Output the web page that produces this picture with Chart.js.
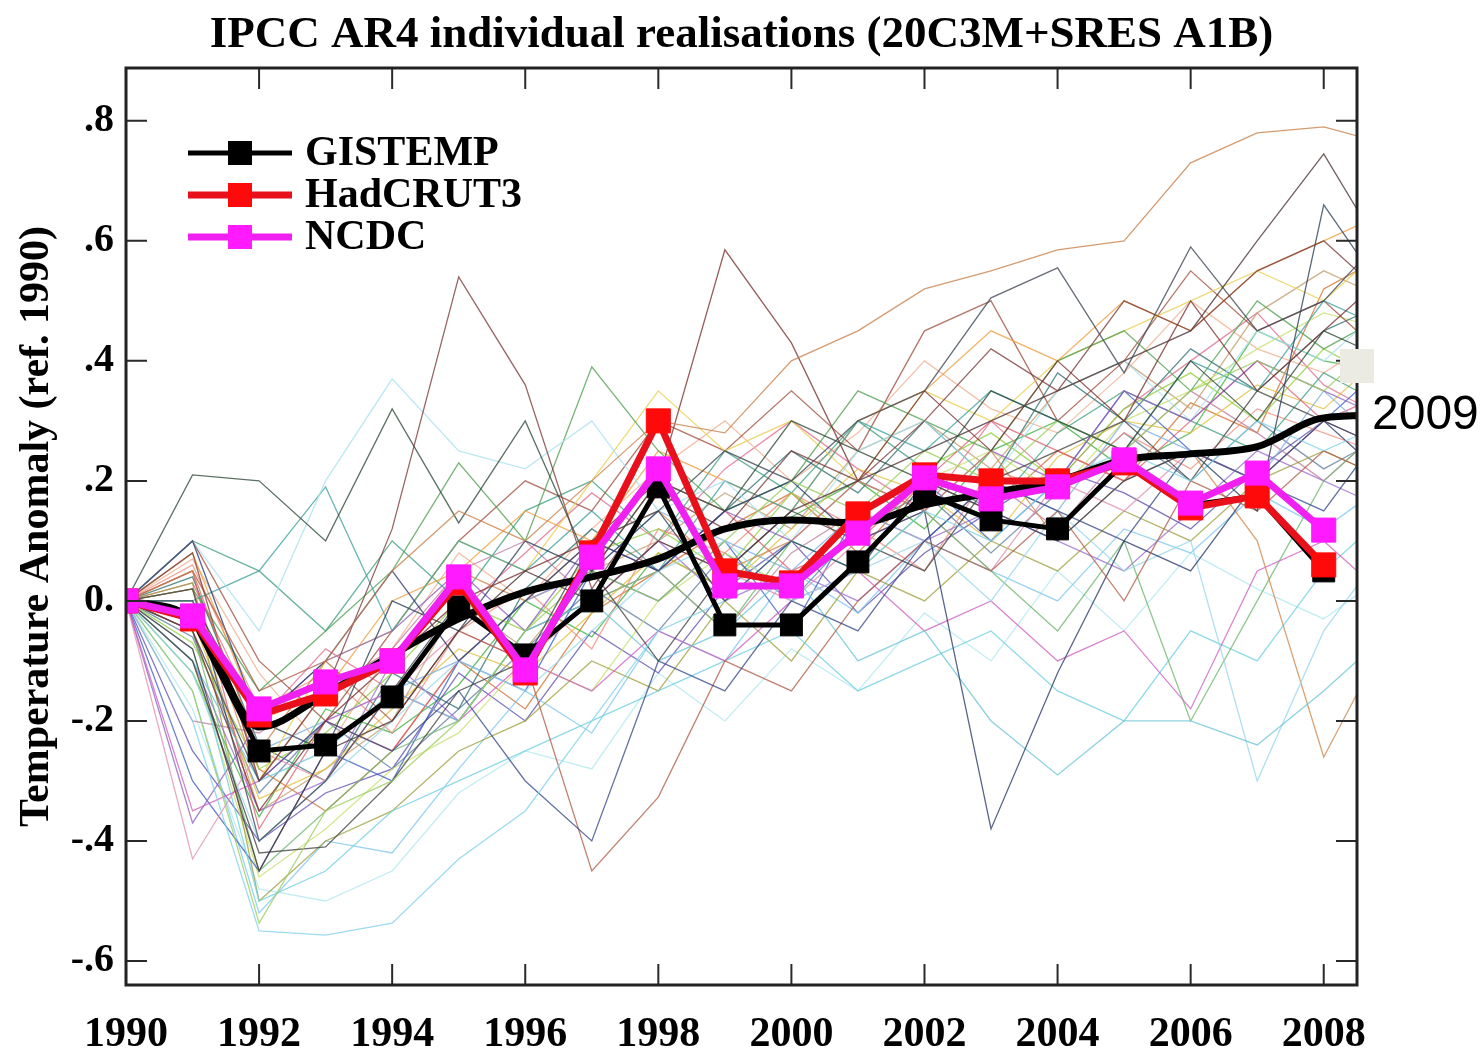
<!DOCTYPE html>
<html>
<head>
<meta charset="utf-8">
<title>IPCC AR4 individual realisations</title>
<script src="https://cdn.jsdelivr.net/npm/chart.js@4.4.1/dist/chart.umd.min.js"></script>
<style>
  html, body { margin: 0; padding: 0; background: #ffffff; }
  #wrap { width: 1484px; height: 1064px; }
</style>
</head>
<body>
<div id="wrap"><canvas id="chart" width="1484" height="1064"></canvas></div>
<script>
const serif = "'Liberation Serif', 'Times New Roman', serif";

// model years run one step past the right edge, the edge is clipped
const modelYears = [1990, 1991, 1992, 1993, 1994, 1995, 1996, 1997, 1998, 1999,
  2000, 2001, 2002, 2003, 2004, 2005, 2006, 2007, 2008, 2009];
const obsYears = [1990, 1991, 1992, 1993, 1994, 1995, 1996, 1997, 1998, 1999,
  2000, 2001, 2002, 2003, 2004, 2005, 2006, 2007, 2008];

const xTickValues = [1990, 1992, 1994, 1996, 1998, 2000, 2002, 2004, 2006, 2008];
const yTickValues = [-0.6, -0.4, -0.2, 0, 0.2, 0.4, 0.6, 0.8];
const yTickLabels = ["-.6", "-.4", "-.2", "0.", ".2", ".4", ".6", ".8"];

const gistemp = [0, -0.03, -0.25, -0.24, -0.16, -0.01, -0.09, 0.0, 0.19, -0.04,
  -0.04, 0.065, 0.18, 0.135, 0.12, 0.23, 0.16, 0.175, 0.05];
const hadcrut3 = [0, -0.03, -0.19, -0.155, -0.1, 0.03, -0.12, 0.08, 0.30, 0.05,
  0.03, 0.145, 0.21, 0.2, 0.2, 0.23, 0.155, 0.175, 0.06];
const ncdc = [0, -0.025, -0.18, -0.135, -0.1, 0.04, -0.115, 0.073, 0.22, 0.025,
  0.025, 0.113, 0.205, 0.17, 0.19, 0.235, 0.163, 0.213, 0.118];

// thick smooth line
const ensembleMean = [0, -0.03, -0.21, -0.155, -0.09, -0.03, 0.015, 0.04, 0.07, 0.12,
  0.135, 0.13, 0.16, 0.18, 0.2, 0.235, 0.245, 0.257, 0.305, 0.31];

// individual model realisations, 1990..2009
const realisations = [
  [0, 0.05, -0.25, -0.1, 0.05, 0.15, 0.1, 0.2, 0.3, 0.28, 0.4, 0.45, 0.52, 0.55, 0.585, 0.6, 0.73, 0.78, 0.79, 0.76],
  [0, 0.08, -0.3, -0.15, 0.12, 0.54, 0.36, 0.02, 0.18, 0.12, 0.25, 0.2, 0.3, 0.42, 0.35, 0.5, 0.45, 0.55, 0.6, 0.5],
  [0, 0.21, 0.2, 0.1, 0.32, 0.13, 0.3, 0.05, 0.2, 0.15, 0.3, 0.25, 0.2, 0.35, 0.3, 0.25, 0.4, 0.3, 0.45, 0.4],
  [0, -0.05, -0.35, -0.2, -0.1, 0.0, 0.05, 0.1, 0.2, 0.585, 0.43, 0.2, 0.35, 0.25, 0.4, 0.3, 0.5, 0.35, 0.45, 0.55],
  [0, 0.02, -0.4, -0.3, -0.15, 0.0, -0.1, 0.1, 0.15, 0.25, 0.2, 0.3, 0.35, 0.505, 0.555, 0.38, 0.59, 0.45, 0.5, 0.62],
  [0, -0.08, -0.45, -0.25, -0.2, -0.05, 0.05, 0.0, 0.1, 0.05, 0.15, 0.2, 0.25, 0.3, 0.35, 0.4, 0.45, 0.6, 0.745, 0.56],
  [0, 0.0, -0.2, -0.25, 0.0, -0.05, 0.1, 0.05, 0.15, 0.0, 0.1, 0.05, 0.2, 0.15, 0.1, 0.2, 0.25, 0.15, 0.66, 0.5],
  [0, -0.2, -0.55, -0.557, -0.537, -0.43, -0.35, -0.2, -0.05, 0.0, 0.1, 0.05, 0.15, 0.1, 0.2, 0.25, 0.2, 0.3, 0.25, 0.3],
  [0, -0.15, -0.537, -0.35, -0.3, -0.2, -0.05, 0.05, 0.0, 0.1, 0.2, 0.15, 0.25, 0.2, 0.3, 0.25, 0.35, 0.4, 0.35, 0.45],
  [0, -0.1, -0.42, -0.41, -0.3, -0.15, -0.1, 0.05, -0.1, 0.05, 0.15, 0.1, 0.05, 0.2, 0.25, 0.3, 0.2, 0.35, 0.3, 0.25],
  [0, -0.05, -0.3, -0.2, -0.25, -0.15, -0.3, -0.4, -0.1, -0.15, 0.0, -0.05, 0.1, 0.2, 0.15, 0.1, 0.25, 0.2, 0.15, 0.3],
  [0, 0.05, -0.15, -0.1, -0.2, -0.05, -0.1, -0.45, -0.327, -0.1, -0.15, 0.0, 0.1, 0.05, 0.15, 0.0, 0.2, 0.15, 0.25, 0.2],
  [0, 0.1, -0.2, -0.1, 0.05, -0.1, 0.0, 0.1, 0.05, 0.15, 0.2, 0.1, 0.15, -0.38, -0.12, 0.1, 0.05, 0.2, 0.3, 0.2],
  [0, -0.1, -0.3, -0.25, -0.15, -0.2, -0.05, 0.0, -0.1, -0.05, 0.05, -0.1, -0.05, -0.2, -0.29, -0.2, -0.2, -0.24, -0.15, -0.05],
  [0, -0.12, -0.4, -0.3, -0.2, -0.1, -0.15, -0.05, 0.05, 0.1, 0.0, 0.05, 0.1, 0.0, 0.15, 0.05, 0.1, -0.3, -0.05, 0.1],
  [0, 0.02, -0.3, -0.15, -0.1, 0.05, 0.0, 0.1, 0.15, 0.05, 0.1, 0.2, 0.15, 0.25, 0.1, 0.2, 0.25, 0.1, -0.26, -0.05],
  [0, -0.35, -0.3, -0.2, -0.15, -0.2, -0.1, -0.15, -0.05, -0.1, 0.0, 0.05, -0.05, 0.0, -0.1, -0.05, -0.18, 0.05, 0.1, 0.0],
  [0, -0.05, -0.45, -0.35, -0.25, -0.2, -0.05, 0.0, 0.05, -0.05, 0.1, 0.05, 0.15, 0.05, -0.05, 0.1, -0.2, 0.0, 0.2, 0.3],
  [0, -0.08, -0.5, -0.45, -0.35, -0.3, -0.25, -0.2, -0.15, -0.1, -0.05, -0.15, -0.1, -0.05, -0.15, -0.2, -0.05, -0.1, 0.05, 0.15],
  [0, -0.43, -0.25, -0.3, -0.15, -0.05, -0.1, 0.0, 0.1, 0.05, 0.0, 0.1, 0.15, 0.05, 0.2, 0.15, 0.25, 0.2, 0.3, 0.35],
  [0, -0.37, -0.2, -0.1, -0.05, 0.05, -0.05, 0.1, 0.05, 0.15, 0.1, 0.2, 0.15, 0.25, 0.2, 0.35, 0.3, 0.4, 0.35, 0.3],
  [0, 0.1, -0.05, 0.2, 0.37, 0.25, 0.22, 0.3, 0.15, 0.2, 0.1, 0.25, 0.3, 0.2, 0.35, 0.4, 0.3, 0.45, 0.4, 0.5],
  [0, 0.0, 0.05, 0.19, -0.05, 0.1, 0.05, 0.15, 0.05, 0.2, 0.15, 0.3, 0.25, 0.35, 0.3, 0.25, 0.4, 0.35, 0.5, 0.45],
  [0, 0.02, -0.15, -0.05, 0.05, 0.23, 0.1, 0.39, 0.25, 0.15, 0.2, 0.35, 0.3, 0.25, 0.4, 0.45, 0.35, 0.5, 0.42, 0.48],
  [0, -0.05, -0.3, -0.1, -0.05, 0.1, 0.05, 0.2, 0.35, 0.25, 0.3, 0.2, 0.35, 0.3, 0.4, 0.45, 0.5, 0.55, 0.5, 0.6],
  [0, 0.08, -0.2, -0.15, 0.0, 0.05, 0.15, 0.1, 0.25, 0.2, 0.15, 0.3, 0.35, 0.45, 0.4, 0.5, 0.45, 0.55, 0.6, 0.65],
  [0, 0.1, -0.1, -0.2, -0.05, 0.1, 0.2, 0.15, 0.3, 0.25, 0.35, 0.25, 0.45, 0.5, 0.3, 0.4, 0.55, 0.45, 0.5, 0.4],
  [0, -0.02, -0.25, -0.2, -0.15, -0.1, 0.0, 0.05, 0.15, 0.1, 0.05, 0.15, 0.1, 0.2, 0.15, 0.3, 0.25, 0.2, 0.35, 0.25],
  [0, -0.3, -0.45, -0.25, -0.3, -0.1, -0.15, 0.05, 0.0, 0.1, -0.05, 0.15, 0.2, 0.1, 0.2, 0.35, 0.25, 0.2, 0.3, 0.4],
  [0, -0.1, -0.35, -0.3, -0.1, -0.2, -0.05, 0.0, 0.1, 0.0, 0.05, 0.0, 0.1, 0.15, 0.1, 0.05, 0.15, 0.25, 0.2, 0.15],
  [0, 0.05, -0.38, -0.2, -0.25, -0.1, 0.0, 0.05, 0.2, 0.15, 0.05, 0.1, 0.2, 0.3, 0.25, 0.2, 0.3, 0.4, 0.3, 0.35],
  [0, 0.03, -0.5, -0.4, -0.35, -0.25, -0.2, -0.1, -0.15, 0.0, -0.1, 0.05, 0.0, 0.1, 0.05, 0.15, 0.1, 0.2, 0.25, 0.2],
  [0, -0.07, -0.28, -0.22, -0.12, 0.0, -0.05, 0.08, 0.12, 0.05, 0.18, 0.1, 0.22, 0.28, 0.2, 0.32, 0.38, 0.3, 0.42, 0.36],
  [0, 0.1, 0.05, -0.05, 0.1, 0.0, 0.15, 0.2, 0.1, 0.25, 0.18, 0.3, 0.22, 0.15, 0.28, 0.35, 0.3, 0.25, 0.38, 0.32],
  [0, -0.15, -0.52, -0.4, -0.42, -0.28, -0.15, -0.22, -0.05, -0.1, 0.05, -0.02, 0.1, 0.05, 0.0, 0.12, 0.08, 0.18, 0.12, 0.2],
  [0, -0.03, -0.33, -0.28, -0.18, -0.08, -0.12, -0.02, 0.08, 0.02, 0.12, 0.22, 0.18, 0.1, 0.24, 0.3, 0.28, 0.36, 0.32, 0.42],
  [0, 0.06, -0.18, -0.12, -0.22, -0.05, 0.02, -0.08, 0.12, 0.08, 0.18, 0.12, 0.05, 0.22, 0.18, 0.28, 0.22, 0.32, 0.28, 0.24],
  [0, -0.2, -0.22, -0.15, -0.08, 0.05, 0.1, 0.0, 0.05, -0.05, 0.08, 0.15, 0.1, 0.2, 0.12, 0.25, 0.35, 0.28, 0.2, 0.3],
  [0, 0.04, -0.24, -0.3, -0.12, -0.18, 0.02, 0.12, 0.05, 0.15, 0.25, 0.18, 0.3, 0.2, 0.38, 0.3, 0.42, 0.35, 0.45, 0.5],
  [0, -0.1, -0.46, -0.38, -0.28, -0.22, -0.1, -0.15, 0.0, 0.08, 0.02, 0.12, 0.2, 0.25, 0.18, 0.3, 0.35, 0.42, 0.48, 0.45],
  [0, 0.0, -0.35, -0.28, -0.2, 0.0, -0.08, 0.05, 0.1, 0.18, 0.12, 0.25, 0.3, 0.22, 0.35, 0.4, 0.32, 0.48, 0.55, 0.5],
  [0, -0.25, -0.4, -0.32, -0.28, -0.12, -0.2, -0.05, -0.12, 0.02, 0.1, -0.02, 0.08, 0.15, 0.22, 0.18, 0.12, 0.22, 0.3, 0.25],
  [0, 0.07, -0.12, -0.25, -0.08, 0.08, 0.0, 0.12, 0.22, 0.3, 0.2, 0.28, 0.4, 0.32, 0.28, 0.38, 0.5, 0.42, 0.38, 0.45],
  [0, -0.18, -0.48, -0.5, -0.45, -0.32, -0.25, -0.28, -0.12, -0.2, -0.08, -0.15, -0.02, -0.1, 0.05, -0.05, 0.08, 0.02, -0.03, 0.05],
  [0, 0.03, -0.2, -0.08, -0.15, -0.02, 0.08, 0.18, 0.1, 0.22, 0.3, 0.22, 0.15, 0.3, 0.2, 0.32, 0.4, 0.48, 0.36, 0.3],
  [0, -0.12, -0.36, -0.18, -0.22, -0.14, 0.0, -0.06, 0.08, 0.02, 0.14, 0.2, 0.12, 0.25, 0.3, 0.22, 0.28, 0.45, 0.4, 0.38],
  [0, 0.02, -0.28, -0.35, -0.25, -0.1, -0.18, -0.02, 0.05, 0.12, 0.18, 0.08, 0.2, 0.15, 0.25, 0.2, 0.33, 0.28, 0.52, 0.58],
  [0, -0.06, -0.32, -0.2, -0.28, -0.18, -0.08, 0.02, -0.05, 0.08, 0.0, 0.12, 0.18, 0.08, 0.18, 0.28, 0.2, 0.3, 0.22, 0.28]
];

const realisationColors = [
  "#c8804a", "#7a3b3b", "#2f4a3a", "#7a3030", "#3d4652", "#4a3030", "#2c3e5a", "#7fd3e8",
  "#9acd5a", "#444444", "#3a4a8a", "#b0604a", "#2a3a6a", "#6cc6d8", "#9ad8ea", "#d08a50",
  "#d060c0", "#70b870", "#70d0e0", "#e090b0", "#9060c0", "#a8e0f0", "#40a0a0", "#50a050",
  "#e8d050", "#f0a040", "#a05040", "#80b0e0", "#4060c0", "#a070d0", "#e06070", "#a0a040",
  "#90d040", "#40a080", "#80c8f0", "#e0c040", "#f09080", "#c080a0", "#307070", "#c8e070",
  "#c0a070", "#6050b0", "#f0b090", "#b0e8f0", "#e07090", "#40b040", "#d07030", "#6080a0"
];

const observations = [
  { label: "GISTEMP", values: gistemp, line: "#000000", marker: "#000000", width: 5, radius: 15.5 },
  { label: "HadCRUT3", values: hadcrut3, line: "#e8101a", marker: "#ff0a0a", width: 7, radius: 17 },
  { label: "NCDC", values: ncdc, line: "#f020f0", marker: "#ff1aff", width: 7, radius: 17 }
];

function toPoints(xs, ys) {
  return ys.map((y, i) => ({ x: xs[i], y }));
}

const datasets = [];

// the last observation (NCDC) sits on top of everything
observations.slice().reverse().forEach((obs, i) => {
  datasets.push({
    label: obs.label,
    data: toPoints(obsYears, obs.values),
    borderColor: obs.line,
    borderWidth: obs.width,
    backgroundColor: obs.marker,
    pointBackgroundColor: obs.marker,
    pointBorderColor: obs.marker,
    pointBorderWidth: 1,
    pointStyle: "rect",
    pointRadius: obs.radius,
    tension: 0,
    clip: 0,
    order: i
  });
});

datasets.push({
  label: "ensemble",
  data: toPoints(modelYears, ensembleMean),
  borderColor: "#000000",
  borderWidth: 7,
  pointRadius: 0,
  cubicInterpolationMode: "monotone",
  clip: 0,
  order: 5
});

realisations.forEach((values, i) => {
  datasets.push({
    label: "run " + (i + 1),
    data: toPoints(modelYears, values),
    borderColor: realisationColors[i % realisationColors.length] + "c8",
    borderWidth: 1.3,
    pointRadius: 0,
    tension: 0,
    clip: 0,
    order: 10 + i
  });
});

const framePlugin = {
  id: "frame",
  afterDatasetsDraw(chart) {
    const { ctx, chartArea: a, scales } = chart;
    ctx.save();
    ctx.strokeStyle = "#2a2a2a";
    ctx.lineWidth = 2;
    const tick = 21;
    xTickValues.forEach((v) => {
      const px = scales.x.getPixelForValue(v);
      if (px <= a.left + 1) return;
      ctx.beginPath();
      ctx.moveTo(px, a.top); ctx.lineTo(px, a.top + tick);
      ctx.moveTo(px, a.bottom); ctx.lineTo(px, a.bottom - tick);
      ctx.stroke();
    });
    yTickValues.forEach((v) => {
      const py = scales.y.getPixelForValue(v);
      ctx.beginPath();
      ctx.moveTo(a.left, py); ctx.lineTo(a.left + tick, py);
      ctx.moveTo(a.right, py); ctx.lineTo(a.right - tick, py);
      ctx.stroke();
    });
    ctx.lineWidth = 3;
    ctx.strokeStyle = "#222222";
    ctx.strokeRect(a.left, a.top, a.right - a.left, a.bottom - a.top);

    // legend, top left inside the frame
    ctx.textBaseline = "middle";
    ctx.textAlign = "left";
    ctx.font = "bold 42px " + serif;
    observations.forEach((obs, i) => {
      const y = 153 + i * 42;
      ctx.strokeStyle = obs.line;
      ctx.lineWidth = obs.width;
      ctx.beginPath();
      ctx.moveTo(188, y); ctx.lineTo(292, y);
      ctx.stroke();
      ctx.fillStyle = obs.marker;
      ctx.fillRect(228, y - 12, 24, 24);
      ctx.fillStyle = "#000000";
      ctx.fillText(obs.label, 305, y + 1);
    });

    // title centred on the plot frame
    ctx.textAlign = "center";
    ctx.font = "bold 45px " + serif;
    ctx.fillText("IPCC AR4 individual realisations (20C3M+SRES A1B)", (a.left + a.right) / 2, 35);

    // marker square and year note at the right edge
    ctx.fillStyle = "#ecebe3";
    ctx.fillRect(1340, 349, 34, 34);
    ctx.fillStyle = "#000000";
    ctx.textAlign = "left";
    ctx.font = "48px 'Liberation Sans', Arial, sans-serif";
    ctx.fillText("2009", 1372, 416);
    ctx.restore();
  }
};

new Chart(document.getElementById("chart"), {
  type: "line",
  data: { datasets },
  options: {
    responsive: false,
    animation: false,
    devicePixelRatio: 1,
    layout: { padding: { top: 68, right: 127, left: 0, bottom: 0 } },
    plugins: {
      legend: { display: false },
      title: { display: false },
      tooltip: { enabled: false }
    },
    scales: {
      x: {
        type: "linear",
        min: 1990,
        max: 2008.5,
        grid: { display: false, drawTicks: false },
        border: { display: false },
        afterBuildTicks(scale) {
          scale.ticks = xTickValues.map((value) => ({ value }));
        },
        afterFit(scale) {
          scale.height = 79;
        },
        ticks: {
          autoSkip: false,
          maxRotation: 0,
          padding: 25,
          color: "#000000",
          font: { family: serif, size: 42, weight: "bold" },
          callback(value) {
            return String(value);
          }
        }
      },
      y: {
        min: -0.64,
        max: 0.888,
        grid: { display: false, drawTicks: false },
        border: { display: false },
        afterBuildTicks(scale) {
          scale.ticks = yTickValues.map((value) => ({ value }));
        },
        afterFit(scale) {
          scale.width = 126;
        },
        title: {
          display: true,
          text: "Temperature Anomaly (ref. 1990)",
          color: "#000000",
          font: { family: serif, size: 42, weight: "bold" },
          padding: { top: 12, bottom: 0 }
        },
        ticks: {
          padding: 12,
          color: "#000000",
          font: { family: serif, size: 40, weight: "bold" },
          callback(value, index) {
            return yTickLabels[index];
          }
        }
      }
    }
  },
  plugins: [framePlugin]
});
</script>
</body>
</html>
